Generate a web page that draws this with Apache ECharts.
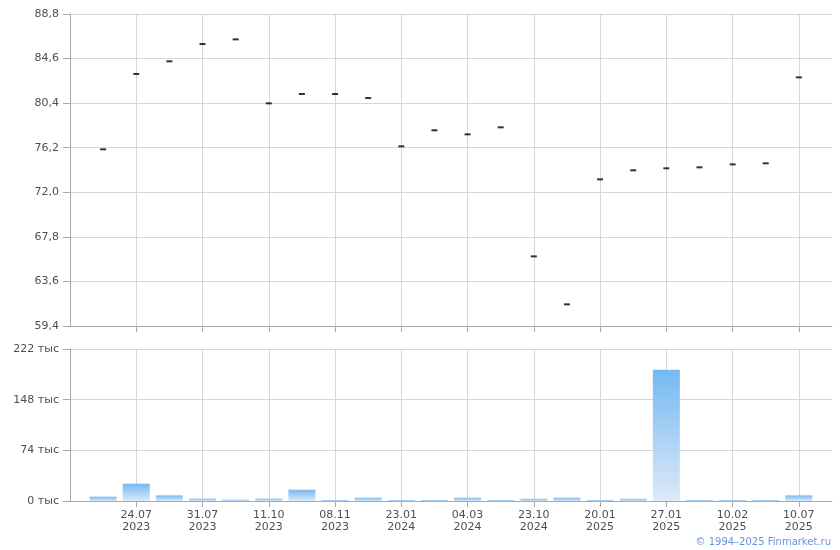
<!DOCTYPE html>
<html>
<head>
<meta charset="utf-8">
<script src="https://cdn.jsdelivr.net/npm/echarts@6/dist/echarts.min.js"></script>
<style>
html,body{margin:0;padding:0;background:#fff;}
#c{width:840px;height:550px;}
</style>
</head>
<body>
<div id="c"></div>
<script>
// Category dates (only every other one is labelled on the axis)
const dates = [
  '20.07.2023','24.07.2023','27.07.2023','31.07.2023','05.09.2023','11.10.2023',
  '20.10.2023','08.11.2023','12.12.2023','23.01.2024','12.02.2024','04.03.2024',
  '10.06.2024','23.10.2024','05.12.2024','20.01.2025','23.01.2025','27.01.2025',
  '03.02.2025','10.02.2025','15.04.2025','10.07.2025'
];
// Closing prices
const prices = [
  76.05, 83.15, 84.34, 85.97, 86.41, 80.38, 81.26, 81.26, 80.88, 76.33, 77.84,
  77.46, 78.12, 65.96, 61.44, 73.22, 74.07, 74.26, 74.35, 74.63, 74.73, 82.83
];
// Trading volumes
const volumes = [
  6300, 25300, 8200, 3400, 1900, 3400, 16500, 1500, 4800, 1500, 1500,
  4800, 1500, 3200, 4800, 1500, 3200, 191800, 1500, 1500, 1500, 8200
];
const priceTicks = {min: 59.4, max: 88.8, interval: 4.2};
const volTicks = {min: 0, max: 222000, interval: 74000};

const cats = [''].concat(dates.map(d => d.slice(0,5) + '\n' + d.slice(6))).concat(['']);
const shown = (idx) => idx >= 2 && idx <= 22 && idx % 2 === 0;

const FONT = 'DejaVu Sans';
const gridCol = '#d3d8dc';
const axisCol = '#a7abb0';
const labelCol = '#4a4f57';

const chart = echarts.init(document.getElementById('c'), null, {renderer: 'canvas'});

const xCommon = {
  type: 'category',
  data: cats,
  boundaryGap: false,
  axisLine: {lineStyle: {color: axisCol, width: 1}},
  axisTick: {show: true, interval: (i) => shown(i), length: 6, lineStyle: {color: axisCol}},
  splitLine: {show: true, interval: (i) => shown(i), lineStyle: {color: gridCol, width: 1}}
};

chart.setOption({
  animation: false,
  backgroundColor: '#fff',
  textStyle: {fontFamily: FONT},
  grid: [
    {left: 70, right: 8, top: 14, height: 312},
    {left: 70, right: 8, top: 349, height: 152}
  ],
  xAxis: [
    Object.assign({}, xCommon, {gridIndex: 0, axisLabel: {show: false}}),
    Object.assign({}, xCommon, {
      gridIndex: 1,
      axisLabel: {
        show: true, interval: (i) => shown(i), margin: 8,
        color: labelCol, fontSize: 11, fontFamily: FONT, lineHeight: 12
      }
    })
  ],
  yAxis: [
    {
      type: 'value', gridIndex: 0,
      min: priceTicks.min, max: priceTicks.max, interval: priceTicks.interval,
      axisLine: {show: true, lineStyle: {color: axisCol}},
      axisTick: {show: true, length: 7, lineStyle: {color: axisCol}},
      splitLine: {show: true, lineStyle: {color: gridCol}},
      axisLabel: {
        margin: 11, color: labelCol, fontSize: 11, fontFamily: FONT,
        formatter: (v) => v.toFixed(1).replace('.', ',')
      }
    },
    {
      type: 'value', gridIndex: 1,
      min: volTicks.min, max: volTicks.max, interval: volTicks.interval,
      axisLine: {show: true, lineStyle: {color: axisCol}},
      axisTick: {show: true, length: 7, lineStyle: {color: axisCol}},
      splitLine: {show: true, lineStyle: {color: gridCol}},
      axisLabel: {
        margin: 11, color: labelCol, fontSize: 11, fontFamily: FONT,
        formatter: (v) => Math.round(v / 1000) + ' тыс'
      }
    }
  ],
  series: [
    {
      type: 'scatter', xAxisIndex: 0, yAxisIndex: 0,
      symbol: 'rect', symbolSize: [6, 2],
      itemStyle: {color: '#000'},
      data: prices.map((p, i) => [i + 1, p])
    },
    {
      type: 'bar', xAxisIndex: 1, yAxisIndex: 1,
      barWidth: 27,
      itemStyle: {
        color: new echarts.graphic.LinearGradient(0, 0, 0, 1, [
          {offset: 0, color: '#74b9f2'},
          {offset: 1, color: '#dde9f8'}
        ])
      },
      data: [null].concat(volumes).concat([null])
    }
  ],
  graphic: [
    {
      type: 'text', right: 9, top: 537,
      style: {text: '© 1994–2025 Finmarket.ru', fill: '#6b93e4', font: '10px "DejaVu Sans"'}
    }
  ]
});
</script>
</body>
</html>
